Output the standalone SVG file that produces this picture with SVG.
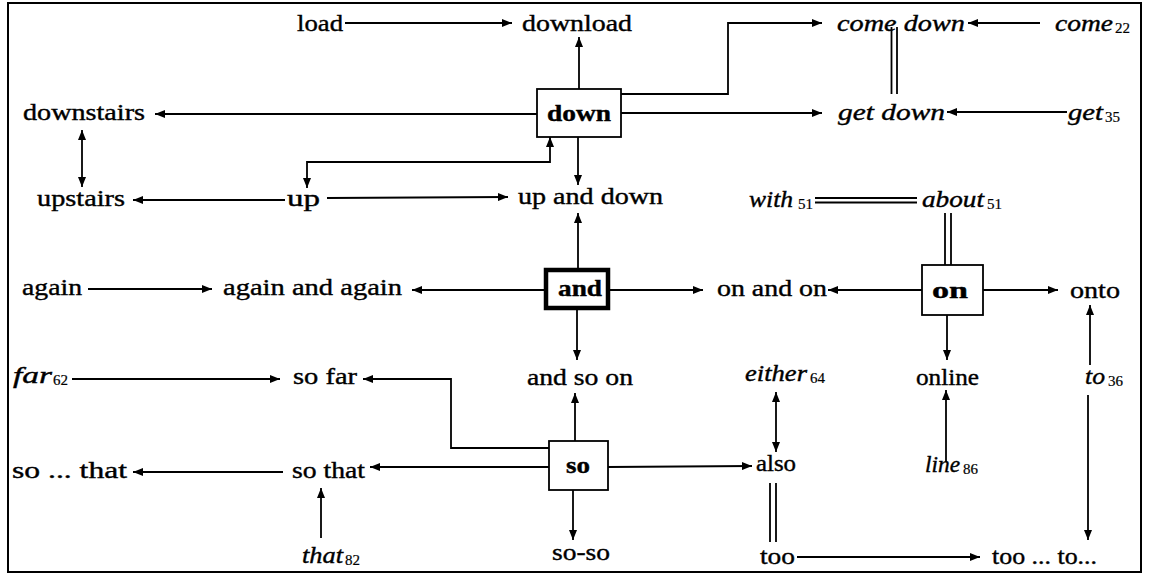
<svg xmlns="http://www.w3.org/2000/svg" width="1149" height="577" viewBox="0 0 1149 577" font-family="Liberation Serif, Tinos, Times New Roman, Times, serif">
<defs>
<marker id="ah" viewBox="0 0 10 8" refX="10" refY="4" markerWidth="10" markerHeight="8" markerUnits="userSpaceOnUse" orient="auto-start-reverse">
<path d="M0,0 L10,4 L0,8 z" fill="#000"/>
</marker>
<style>
text{font-family:'Liberation Serif',Tinos,'Times New Roman',Times,serif;font-size:24px;fill:#000;stroke:#000;stroke-width:0.4}
.i{font-style:italic}
.b{font-weight:bold}
.s{font-size:15px;stroke-width:0.2}
.box{fill:#fff;stroke:#000;stroke-width:1.8}
.c path,.c line{fill:none;stroke:#000;stroke-width:1.8}
.a{marker-end:url(#ah)}
.aa{marker-start:url(#ah);marker-end:url(#ah)}
</style>
</defs>
<rect x="8" y="3" width="1133" height="569" fill="#fff" stroke="#000" stroke-width="2"/>
<g class="c">
<line class="a" x1="345" y1="23" x2="512" y2="23"/>
<line class="a" x1="579" y1="89" x2="579" y2="37"/>
<path class="a" d="M621,94 H728 V23 H822"/>
<line class="a" x1="1040" y1="23" x2="968" y2="23"/>
<line x1="891.5" y1="27" x2="891.5" y2="94"/>
<line x1="897" y1="27" x2="897" y2="94"/>
<line class="a" x1="621" y1="113" x2="822" y2="113"/>
<line class="a" x1="1067" y1="112" x2="947" y2="112"/>
<line class="a" x1="537" y1="114" x2="155" y2="114"/>
<line class="aa" x1="82" y1="130" x2="82" y2="187"/>
<line class="a" x1="285" y1="200" x2="133" y2="200"/>
<line class="a" x1="327" y1="198" x2="508" y2="197"/>
<line class="a" x1="578" y1="137" x2="578" y2="185"/>
<path class="aa" d="M307,188 V162 H550 V137"/>
<line x1="815" y1="198" x2="917" y2="198"/>
<line x1="815" y1="202.5" x2="917" y2="202.5"/>
<line x1="945" y1="213" x2="945" y2="265"/>
<line x1="951" y1="213" x2="951" y2="265"/>
<line class="a" x1="578" y1="268" x2="578" y2="213"/>
<line class="a" x1="88" y1="289" x2="212" y2="289"/>
<line class="a" x1="544" y1="290" x2="412" y2="290"/>
<line class="a" x1="610" y1="290" x2="703" y2="290"/>
<line class="a" x1="922" y1="290" x2="828" y2="290"/>
<line class="a" x1="983" y1="290" x2="1058" y2="290"/>
<line class="a" x1="947" y1="315" x2="947" y2="360"/>
<line class="a" x1="577" y1="310" x2="577" y2="360"/>
<line class="a" x1="72" y1="379" x2="280" y2="379"/>
<path class="a" d="M549,448 H451 V379 H363"/>
<line class="a" x1="575" y1="441" x2="575" y2="393"/>
<line class="aa" x1="776" y1="392" x2="776" y2="452"/>
<line class="a" x1="946" y1="462" x2="946" y2="390"/>
<line class="a" x1="1090" y1="365" x2="1090" y2="305"/>
<line class="a" x1="1088" y1="395" x2="1088" y2="540"/>
<line class="a" x1="549" y1="467" x2="370" y2="467"/>
<line class="a" x1="283" y1="472" x2="133" y2="472"/>
<line class="a" x1="608" y1="467" x2="752" y2="466"/>
<line class="a" x1="321" y1="538" x2="321" y2="488"/>
<line class="a" x1="573" y1="490" x2="573" y2="540"/>
<line x1="770" y1="483" x2="770" y2="542"/>
<line x1="776" y1="483" x2="776" y2="542"/>
<line class="a" x1="797" y1="557" x2="980" y2="557"/>
</g>
<g id="load"><text x="297" y="31" textLength="46" lengthAdjust="spacingAndGlyphs">load</text></g>
<g id="download"><text x="522" y="31" textLength="110" lengthAdjust="spacingAndGlyphs">download</text></g>
<g id="come-down"><text class="i" x="837" y="31" textLength="128" lengthAdjust="spacingAndGlyphs">come down</text></g>
<g id="come"><text class="i" x="1055" y="31" textLength="58" lengthAdjust="spacingAndGlyphs">come</text><text class="s" x="1115" y="33">22</text></g>
<g id="downstairs"><text x="23" y="120" textLength="122" lengthAdjust="spacingAndGlyphs">downstairs</text></g>
<g id="down"><rect class="box" x="537" y="89" width="84" height="48"/><text class="b" x="547" y="121" textLength="64" lengthAdjust="spacingAndGlyphs">down</text></g>
<g id="get-down"><text class="i" x="838" y="120" textLength="107" lengthAdjust="spacingAndGlyphs">get down</text></g>
<g id="get"><text class="i" x="1068" y="120" textLength="35" lengthAdjust="spacingAndGlyphs">get</text><text class="s" x="1105" y="122">35</text></g>
<g id="upstairs"><text x="37" y="206" textLength="88" lengthAdjust="spacingAndGlyphs">upstairs</text></g>
<g id="up"><text x="287" y="206" textLength="33" lengthAdjust="spacingAndGlyphs">up</text></g>
<g id="up-and-down"><text x="518" y="204" textLength="145" lengthAdjust="spacingAndGlyphs">up and down</text></g>
<g id="with"><text class="i" x="749" y="207" textLength="44" lengthAdjust="spacingAndGlyphs">with</text><text class="s" x="798" y="209">51</text></g>
<g id="about"><text class="i" x="922" y="207" textLength="62" lengthAdjust="spacingAndGlyphs">about</text><text class="s" x="987" y="209">51</text></g>
<g id="again"><text x="22" y="295" textLength="60" lengthAdjust="spacingAndGlyphs">again</text></g>
<g id="again-and-again"><text x="223" y="295" textLength="179" lengthAdjust="spacingAndGlyphs">again and again</text></g>
<g id="and"><rect x="546" y="270" width="62" height="38" fill="#fff" stroke="#000" stroke-width="4.5"/><text class="b" x="558" y="296" textLength="44" lengthAdjust="spacingAndGlyphs">and</text></g>
<g id="on-and-on"><text x="717" y="296" textLength="110" lengthAdjust="spacingAndGlyphs">on and on</text></g>
<g id="on"><rect class="box" x="922" y="265" width="61" height="50"/><text class="b" x="932" y="298" textLength="36" lengthAdjust="spacingAndGlyphs">on</text></g>
<g id="onto"><text x="1070" y="298" textLength="50" lengthAdjust="spacingAndGlyphs">onto</text></g>
<g id="far"><text class="i" x="13" y="383" textLength="39" lengthAdjust="spacingAndGlyphs">far</text><text class="s" x="53" y="385">62</text></g>
<g id="so-far"><text x="293" y="384" textLength="64" lengthAdjust="spacingAndGlyphs">so far</text></g>
<g id="and-so-on"><text x="527" y="385" textLength="106" lengthAdjust="spacingAndGlyphs">and so on</text></g>
<g id="either"><text class="i" x="745" y="381" textLength="62" lengthAdjust="spacingAndGlyphs">either</text><text class="s" x="810" y="383">64</text></g>
<g id="online"><text x="916" y="385" textLength="63" lengthAdjust="spacingAndGlyphs">online</text></g>
<g id="to"><text class="i" x="1085" y="384" textLength="20" lengthAdjust="spacingAndGlyphs">to</text><text class="s" x="1108" y="386">36</text></g>
<g id="so-dots-that"><text x="12" y="478" textLength="115" lengthAdjust="spacingAndGlyphs">so ...  that</text></g>
<g id="so-that"><text x="292" y="478" textLength="73" lengthAdjust="spacingAndGlyphs">so that</text></g>
<g id="so"><rect class="box" x="549" y="441" width="59" height="49"/><text class="b" x="566" y="473" textLength="24" lengthAdjust="spacingAndGlyphs">so</text></g>
<g id="also"><text x="756" y="471" textLength="40" lengthAdjust="spacingAndGlyphs">also</text></g>
<g id="line"><text class="i" x="925" y="472" textLength="35" lengthAdjust="spacingAndGlyphs">line</text><text class="s" x="963" y="474">86</text></g>
<g id="that"><text class="i" x="302" y="563" textLength="41" lengthAdjust="spacingAndGlyphs">that</text><text class="s" x="345" y="565">82</text></g>
<g id="so-so"><text x="552" y="560" textLength="58" lengthAdjust="spacingAndGlyphs">so-so</text></g>
<g id="too"><text x="760" y="564" textLength="35" lengthAdjust="spacingAndGlyphs">too</text></g>
<g id="too-to"><text x="992" y="564" textLength="105" lengthAdjust="spacingAndGlyphs">too ... to...</text></g>
</svg>
